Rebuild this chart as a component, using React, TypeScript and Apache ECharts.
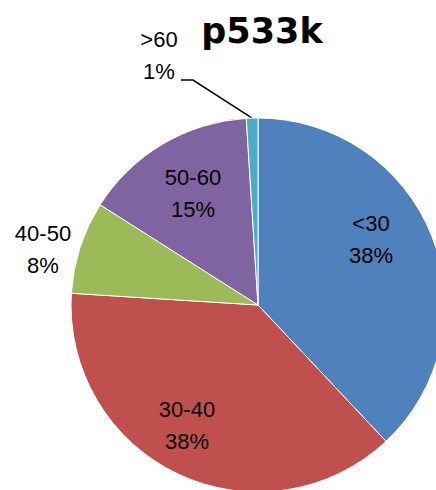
import React, { useEffect, useRef } from "react";
import * as echarts from "echarts";

// Age-group breakdown for p533k
const categories = ["<30", "30-40", "40-50", "50-60", ">60"];
const values = [38, 38, 8, 15, 1];
const colors = ["#4F81BD", "#C0504D", "#9BBB59", "#8064A2", "#4BACC6"];

const CENTER: [number, number] = [258, 305];
const RADIUS = 187;

// Where each label block sits (centre of the two-line text)
const labelSpots: [number, number][] = [
  [371, 239],
  [187, 425],
  [43, 249],
  [193, 193],
  [159, 55],
];

export default function App() {
  const ref = useRef<HTMLDivElement>(null);

  useEffect(() => {
    if (!ref.current) return;
    const chart = echarts.init(ref.current, null, { renderer: "svg" });

    const total = values.reduce((a, b) => a + b, 0);
    // outer-edge point at the middle of the smallest slice, for its leader line
    const before = values.slice(0, 4).reduce((a, b) => a + b, 0);
    const midFrac = (before + values[4] / 2) / total;
    const ang = midFrac * Math.PI * 2;
    const edge: [number, number] = [
      CENTER[0] + RADIUS * Math.sin(ang),
      CENTER[1] - RADIUS * Math.cos(ang),
    ];

    const data = categories.map((name, i) => {
      const outside = i === 2 || i === 4;
      return {
        name,
        value: values[i],
        itemStyle: { color: colors[i] },
        label: { position: outside ? "outside" : "inside" },
        labelLine: { show: i === 4 },
      };
    });

    chart.setOption({
      animation: false,
      title: {
        text: "p533k",
        left: 257,
        top: 8,
        textAlign: "center",
        textStyle: {
          fontFamily: "DejaVu Sans",
          fontWeight: "bold",
          fontSize: 35,
          color: "#000",
        },
      },
      series: [
        {
          type: "pie",
          center: CENTER,
          radius: RADIUS,
          startAngle: 90,
          clockwise: true,
          avoidLabelOverlap: false,
          percentPrecision: 0,
          itemStyle: { borderColor: "#fff", borderWidth: 1 },
          label: {
            show: true,
            formatter: "{b}\n{d}%",
            fontFamily: "Liberation Sans",
            fontSize: 22,
            lineHeight: 32,
            color: "#000",
            align: "center",
          },
          labelLine: {
            show: false,
            lineStyle: { color: "#000", width: 1.5 },
          },
          labelLayout: (params: any) => {
            const i = params.dataIndex;
            const [x, y] = labelSpots[i];
            const out: any = { x, y, align: "center", verticalAlign: "middle" };
            if (i === 4) {
              out.labelLinePoints = [edge, [193, 80], [181, 80]];
            }
            return out;
          },
          emphasis: { disabled: true },
          data,
        },
      ],
    });

    return () => chart.dispose();
  }, []);

  return (
    <div
      ref={ref}
      style={{ position: "absolute", left: 0, top: 0, width: 436, height: 490 }}
    />
  );
}
